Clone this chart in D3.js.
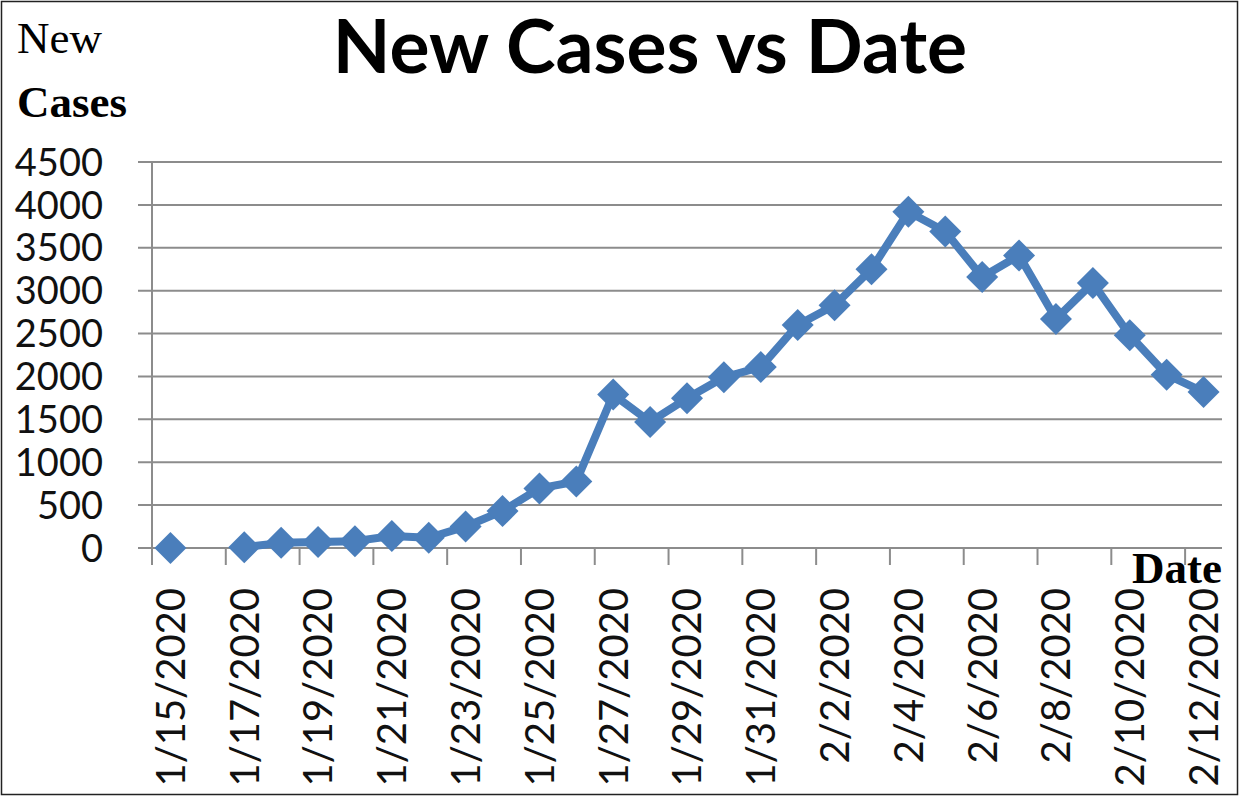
<!DOCTYPE html>
<html>
<head>
<meta charset="utf-8">
<script src="https://cdn.jsdelivr.net/npm/d3@7"></script>
<style>
  body { margin: 0; background: #fff; }
  svg { display: block; }
</style>
</head>
<body>
<div id="chart"></div>
<script>
const dates = [
  "1/15/2020", "1/16/2020", "1/17/2020", "1/18/2020", "1/19/2020", "1/20/2020",
  "1/21/2020", "1/22/2020", "1/23/2020", "1/24/2020", "1/25/2020", "1/26/2020",
  "1/27/2020", "1/28/2020", "1/29/2020", "1/30/2020", "1/31/2020", "2/1/2020",
  "2/2/2020", "2/3/2020", "2/4/2020", "2/5/2020", "2/6/2020", "2/7/2020",
  "2/8/2020", "2/9/2020", "2/10/2020", "2/11/2020", "2/12/2020"
];
// 1/16 has no value in the source (gap in the line)
const newCases = [
  0, null, 10, 60, 70, 80, 140, 120, 250, 430, 695, 775,
  1790, 1470, 1745, 1990, 2110, 2600, 2830, 3250, 3920, 3690,
  3160, 3410, 2670, 3090, 2480, 2020, 1820
];
const yTicks = [0, 500, 1000, 1500, 2000, 2500, 3000, 3500, 4000, 4500];

const width = 1239, height = 796;
const plotLeft = 152, plotRight = 1222, plotTop = 162, plotBottom = 548;
const blue = "#4a7ebb", grid = "#8c8c8c";
const sans = "Lato, 'Open Sans', sans-serif";
const serif = "'Liberation Serif', 'DejaVu Serif', serif";

const svg = d3.select("#chart").append("svg")
  .attr("width", width)
  .attr("height", height);

svg.append("rect")
  .attr("x", 1.5).attr("y", 1.5)
  .attr("width", width - 3).attr("height", height - 3)
  .attr("fill", "#fff").attr("stroke", "#222").attr("stroke-width", 1.5);

const x = d3.scaleBand().domain(dates).range([plotLeft, plotRight]).padding(0);
const y = d3.scaleLinear().domain([0, 4500]).range([plotBottom, plotTop]);

// horizontal gridlines + y labels
const yAxis = svg.append("g");
yAxis.selectAll("line")
  .data(yTicks)
  .enter().append("line")
  .attr("x1", plotLeft - 14).attr("x2", plotRight)
  .attr("y1", d => y(d)).attr("y2", d => y(d))
  .attr("stroke", grid).attr("stroke-width", 2);

yAxis.selectAll("text")
  .data(yTicks)
  .enter().append("text")
  .attr("x", 103)
  .attr("y", d => y(d))
  .attr("dy", "0.36em")
  .attr("text-anchor", "end")
  .style("font-family", sans)
  .style("font-size", "38px")
  .attr("fill", "#111")
  .text(d => d);

// vertical axis line
svg.append("line")
  .attr("x1", plotLeft).attr("x2", plotLeft)
  .attr("y1", plotTop).attr("y2", plotBottom + 17)
  .attr("stroke", grid).attr("stroke-width", 2);

// x ticks between every second category
const everyOther = dates.filter((d, i) => i % 2 === 0);
svg.append("g").selectAll("line")
  .data(everyOther.slice(1))
  .enter().append("line")
  .attr("x1", d => x(d)).attr("x2", d => x(d))
  .attr("y1", plotBottom).attr("y2", plotBottom + 17)
  .attr("stroke", grid).attr("stroke-width", 2);

svg.append("g").selectAll("text")
  .data(everyOther)
  .enter().append("text")
  .attr("transform", d => `translate(${x(d) + x.bandwidth() / 2},588) rotate(-90)`)
  .attr("dy", "0.36em")
  .attr("text-anchor", "end")
  .style("font-family", sans)
  .style("font-size", "40px")
  .attr("fill", "#111")
  .text(d => d);

// series
const points = dates.map((d, i) => ({ date: d, value: newCases[i] }));
const cx = d => x(d.date) + x.bandwidth() / 2;

const line = d3.line()
  .defined(d => d.value != null)
  .x(cx)
  .y(d => y(d.value));

svg.append("path")
  .datum(points)
  .attr("fill", "none")
  .attr("stroke", blue)
  .attr("stroke-width", 8)
  .attr("stroke-linejoin", "round")
  .attr("d", line);

const diamond = d3.symbol().type(d3.symbolSquare).size(512);
svg.append("g").selectAll("path")
  .data(points.filter(d => d.value != null))
  .enter().append("path")
  .attr("d", diamond)
  .attr("transform", d => `translate(${cx(d)},${y(d.value)}) rotate(45)`)
  .attr("fill", blue);

// titles
svg.append("text")
  .attr("x", 650).attr("y", 73)
  .attr("text-anchor", "middle")
  .style("font-family", sans)
  .style("font-weight", "bold")
  .style("font-size", "75px")
  .attr("fill", "#000")
  .text("New Cases vs Date");

svg.append("text")
  .attr("x", 17).attr("y", 53)
  .style("font-family", serif).style("font-size", "45px")
  .text("New");
svg.append("text")
  .attr("x", 17).attr("y", 117)
  .style("font-family", serif).style("font-size", "45px").style("font-weight", "bold")
  .text("Cases");
svg.append("text")
  .attr("x", 1222).attr("y", 583)
  .attr("text-anchor", "end")
  .style("font-family", serif).style("font-size", "45px").style("font-weight", "bold")
  .text("Date");
</script>
</body>
</html>
